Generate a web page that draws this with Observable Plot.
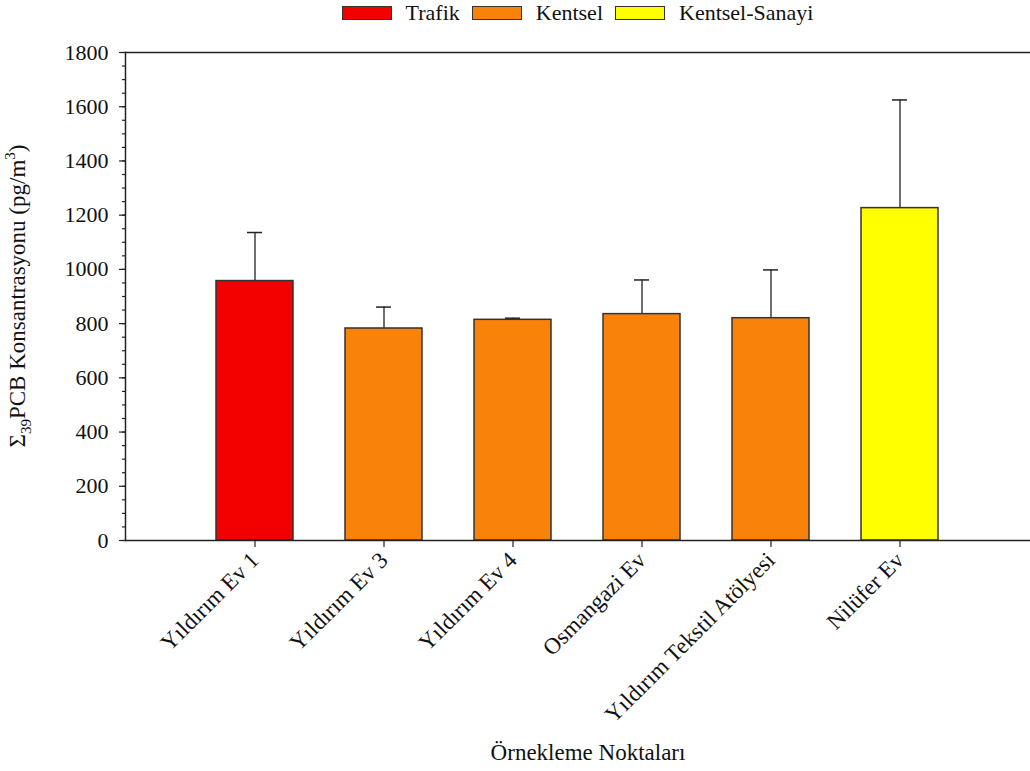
<!DOCTYPE html>
<html>
<head>
<meta charset="utf-8">
<script src="https://cdn.jsdelivr.net/npm/d3@7"></script>
<script src="https://cdn.jsdelivr.net/npm/@observablehq/plot@0.6"></script>
<style>
  html, body { margin: 0; padding: 0; background: #fff; }
  body { width: 1030px; height: 771px; overflow: hidden; font-family: "Liberation Serif", serif; }
  #legend { height: 25px; padding-left: 125px; display: flex; justify-content: center; align-items: center; font-size: 22px; color: #111; font-family: "Liberation Serif", serif; }
  .item { display: flex; align-items: center; margin: 0 6px; }
  .sw { width: 48px; height: 12px; border: 1.5px solid #333; margin-right: 14px; }
  svg, svg text { font-family: "Liberation Serif", serif !important; }
</style>
</head>
<body>
<div id="legend"></div>
<div id="chart"></div>
<script>
const categories = ["Yıldırım Ev 1", "Yıldırım Ev 3", "Yıldırım Ev 4", "Osmangazi Ev", "Yıldırım Tekstil Atölyesi", "Nilüfer Ev"];
const means = [957, 782, 814, 835, 820, 1226];
const errors = [179, 79, 6, 126, 178, 399];
const groups = ["Trafik", "Kentsel", "Kentsel", "Kentsel", "Kentsel", "Kentsel-Sanayi"];
const groupNames = ["Trafik", "Kentsel", "Kentsel-Sanayi"];
const groupColors = ["#f20000", "#f8820a", "#ffff00"];
const yTicks = [0, 200, 400, 600, 800, 1000, 1200, 1400, 1600, 1800];

const data = categories.map((c, i) => ({name: c, mean: means[i], err: errors[i], group: groups[i]}));

// legend
const legend = d3.select("#legend");
groupNames.forEach((g, i) => {
  const it = legend.append("div").attr("class", "item");
  it.append("div").attr("class", "sw").style("background", groupColors[i]);
  it.append("span").text(g);
});

const ink = "#222";
const chart = Plot.plot({
  width: 1030,
  height: 746,
  marginTop: 27,
  marginBottom: 231,
  marginLeft: 125,
  marginRight: 0,
  style: {fontFamily: "'Liberation Serif', serif", fontSize: "21px", color: "#111", background: "white"},
  x: {domain: categories, paddingInner: 0.4, paddingOuter: 0.7, label: null},
  y: {domain: [0, 1800], label: null},
  color: {domain: groupNames, range: groupColors},
  marks: [
    Plot.ruleX(data, {x: "name", y1: "mean", y2: d => d.mean + d.err, stroke: ink, strokeWidth: 1.3}),
    Plot.tickY(data, {x: "name", y: d => d.mean + d.err, stroke: ink, strokeWidth: 1.5, inset: 31}),
    Plot.barY(data, {x: "name", y: "mean", fill: "group", stroke: "#333", strokeWidth: 1.5}),
    Plot.ruleY([0, 1800], {stroke: ink, strokeWidth: 1.5}),
    Plot.frame({anchor: "left", stroke: ink, strokeWidth: 1.5}),
    Plot.axisY({ticks: d3.range(0, 1801, 50), tickSize: 3, text: null, stroke: ink, strokeWidth: 1.2}),
    Plot.axisY({ticks: yTicks, tickSize: 6, tickPadding: 11, tickFormat: d => String(d), stroke: ink, strokeWidth: 1.2, label: null, fill: "#111", fontSize: 22}),
    Plot.axisX({tickSize: 7, tickRotate: -45, tickPadding: 9, stroke: ink, strokeWidth: 1.2, label: null, fill: "#111", fontSize: 23})
  ]
});
document.getElementById("chart").appendChild(chart);

const svg = d3.select(chart);
// y-axis title with subscript/superscript
const yt = svg.append("text")
  .attr("transform", "translate(25,271) rotate(-90)")
  .attr("text-anchor", "middle")
  .attr("font-size", 23)
  .attr("fill", "#111");
yt.append("tspan").text("Σ");
yt.append("tspan").attr("dy", 6).attr("font-size", 15).text("39");
yt.append("tspan").attr("dy", -6).text("PCB Konsantrasyonu (pg/m");
yt.append("tspan").attr("dy", -10).attr("font-size", 15).text("3");
yt.append("tspan").attr("dy", 10).text(")");

// x-axis title
svg.append("text")
  .attr("x", 588).attr("y", 735)
  .attr("text-anchor", "middle")
  .attr("font-size", 23)
  .attr("fill", "#111")
  .text("Örnekleme Noktaları");
</script>
</body>
</html>
